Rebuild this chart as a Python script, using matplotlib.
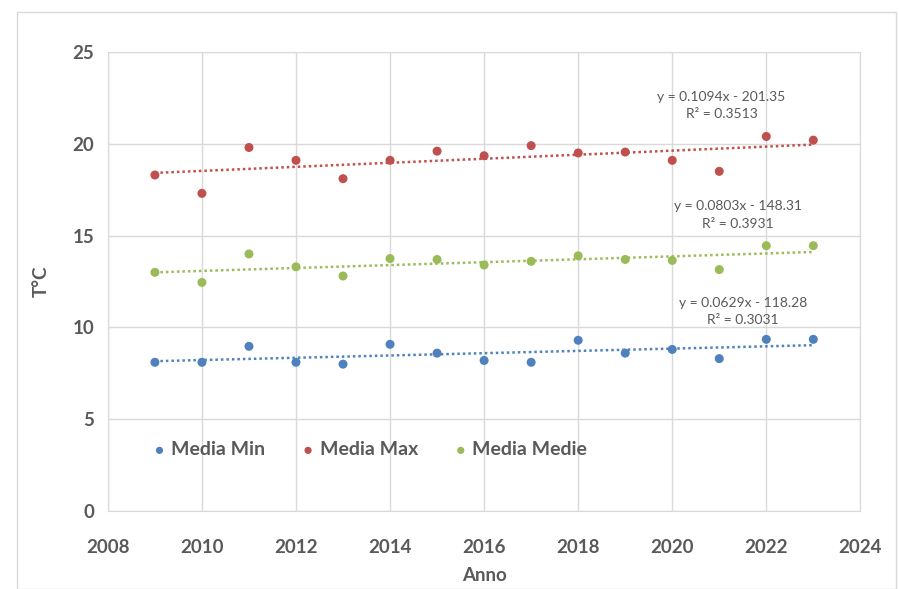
import numpy as np
import matplotlib.pyplot as plt
from matplotlib.patches import Rectangle

plt.rcParams['font.family'] = ['Lato', 'DejaVu Sans']

# data
anni = [2009, 2010, 2011, 2012, 2013, 2014, 2015, 2016, 2017, 2018, 2019, 2020, 2021, 2022, 2023]
media_min = [8.1, 8.1, 8.97, 8.1, 8.0, 9.08, 8.6, 8.2, 8.1, 9.3, 8.6, 8.8, 8.3, 9.35, 9.35]
media_max = [18.3, 17.3, 19.8, 19.1, 18.1, 19.1, 19.6, 19.35, 19.9, 19.5, 19.55, 19.1, 18.5, 20.4, 20.2]
media_medie = [13.0, 12.45, 14.0, 13.3, 12.8, 13.75, 13.7, 13.4, 13.6, 13.9, 13.7, 13.65, 13.15, 14.45, 14.45]

serie = [
    ('Media Min', media_min, '#4F81BD', 'y = 0.0629x - 118.28', 'R² = 0.3031', (2021.5, 11.35)),
    ('Media Max', media_max, '#C0504D', 'y = 0.1094x - 201.35', 'R² = 0.3513', (2021.05, 22.55)),
    ('Media Medie', media_medie, '#9BBB59', 'y = 0.0803x - 148.31', 'R² = 0.3931', (2021.4, 16.6)),
]

fig = plt.figure(figsize=(8.99, 5.89), dpi=100)
fig.patches.append(Rectangle((17/899, 0), 879/899, 577/589, transform=fig.transFigure,
                             fill=False, edgecolor='#D9D9D9', linewidth=1))
ax = fig.add_axes([0.120, 0.1324, 0.837, 0.7793])

x = np.array(anni)
for nome, vals, col, eq, r2, pos in serie:
    ax.scatter(x, vals, s=42, color=col, label=nome, zorder=3, edgecolors='none')
    p = np.polyfit(x, vals, 1)
    ax.plot(x, np.polyval(p, x), linestyle=(0, (1, 1.2)), color=col, linewidth=1.8, zorder=2)
    ax.text(pos[0], pos[1], eq, ha='center', va='center', fontsize=10, color='#595959')
    ax.text(pos[0], pos[1] - 0.95, r2, ha='center', va='center', fontsize=10, color='#595959')

ax.set_xlim(2008, 2024)
ax.set_ylim(0, 25)
ax.set_xticks(range(2008, 2025, 2))
ax.set_yticks(range(0, 26, 5))
ax.grid(True, color='#D9D9D9', linewidth=1)
ax.set_axisbelow(True)
for s in ax.spines.values():
    s.set_color('#D9D9D9')
ax.tick_params(axis='x', pad=20)
ax.tick_params(axis='y', pad=10)
ax.tick_params(length=0, labelsize=13.5, labelcolor='#595959')
for lab in ax.get_xticklabels() + ax.get_yticklabels():
    lab.set_fontweight('bold')

ax.set_xlabel('Anno', fontsize=13.5, fontweight='bold', color='#595959', labelpad=8)
ax.set_ylabel('T°C', fontsize=13.5, fontweight='bold', color='#595959', labelpad=16)

leg = ax.legend(loc='center', bbox_to_anchor=(0.349, 0.133), ncol=3, frameon=False,
                markerscale=0.8, handlelength=0.6, handletextpad=0.3, columnspacing=1.9,
                prop={'size': 14, 'weight': 'bold'})
for t in leg.get_texts():
    t.set_color('#595959')

plt.savefig('out.png', dpi=100)
